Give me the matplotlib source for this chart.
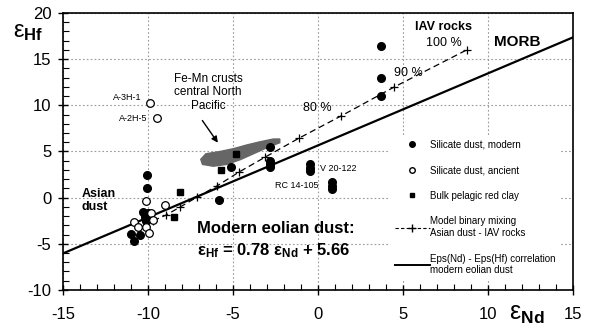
import matplotlib
matplotlib.use("Agg")
import matplotlib.pyplot as plt
from matplotlib.ticker import MultipleLocator
from matplotlib.lines import Line2D
import numpy as np

plt.rcParams["font.family"] = ["Liberation Sans", "DejaVu Sans"]
plt.rcParams["mathtext.fontset"] = "custom"
plt.rcParams["mathtext.rm"] = "Liberation Sans"
plt.rcParams["mathtext.bf"] = "Liberation Sans:bold"
plt.rcParams["mathtext.it"] = "Liberation Sans:italic"
plt.rcParams["axes.unicode_minus"] = False

# Silicate dust, modern (eNd, eHf)
modern_nd = [3.7, 3.7, 3.7, -2.8, -2.85, -2.8, -2.8, -5.1, -5.8,
             -0.5, -0.5, -0.5, 0.8, 0.8, 0.8,
             -10.05, -10.05, -10.3, -10.0, -10.2, -10.1, -11.0, -10.5, -10.8]
modern_hf = [16.4, 13.0, 11.0, 5.5, 4.0, 3.6, 3.3, 3.35, -0.3,
             3.6, 3.2, 2.9, 1.7, 1.3, 0.9,
             2.45, 1.05, -1.6, -1.7, -2.1, -2.5, -3.9, -4.1, -4.7]

# Silicate dust, ancient
ancient_nd = [-9.9, -9.5, -10.15, -9.0, -9.85, -10.8, -10.6, -10.15, -9.95, -9.7]
ancient_hf = [10.25, 8.6, -0.4, -0.75, -1.7, -2.6, -3.2, -3.2, -3.85, -2.4]

# Bulk pelagic red clay
clay_nd = [-4.8, -5.7, -8.15, -8.45]
clay_hf = [4.7, 2.95, 0.6, -2.05]

# Model binary mixing Asian dust - IAV rocks
mix_nd = [-9.7, -8.95, -8.1, -7.1, -5.95, -4.65, -3.1, -1.1, 1.35, 4.5, 8.75]
mix_hf = [-2.5, -1.9, -1.0, 0.07, 1.26, 2.77, 4.4, 6.46, 8.84, 12.0, 16.0]

# correlation eHf = 0.78 eNd + 5.66
slope, intercept = 0.78, 5.66

# Fe-Mn crust field outline
crust_nd = [-6.9, -6.6, -5.76, -4.98, -4.2, -3.41, -2.63, -2.25, -2.25,
            -3.02, -3.8, -4.59, -5.37, -6.16, -6.8]
crust_hf = [4.15, 4.75, 5.0, 5.3, 5.7, 6.05, 6.35, 6.35, 5.95,
            5.4, 4.75, 4.1, 3.6, 3.4, 3.6]

fig = plt.figure(figsize=(5.9, 3.34), dpi=100)
ax = fig.add_axes([0.107, 0.132, 0.864, 0.829])

ax.set_xlim(-15, 15)
ax.set_ylim(-10, 20)
ax.xaxis.set_major_locator(MultipleLocator(5))
ax.xaxis.set_minor_locator(MultipleLocator(1))
ax.yaxis.set_major_locator(MultipleLocator(5))
ax.yaxis.set_minor_locator(MultipleLocator(1))
ax.tick_params(which="major", direction="inout", length=7, width=1, labelsize=12)
ax.tick_params(which="minor", direction="in", length=4, width=0.8)
ax.tick_params(axis="x", which="major", pad=9)
ax.tick_params(axis="y", which="major", pad=5)
for s in ax.spines.values():
    s.set_linewidth(1.2)
ax.grid(True, which="major", linestyle=(0, (1.5, 2)), color="#999999", linewidth=0.8)
ax.set_axisbelow(True)

ax.fill(crust_nd, crust_hf, color="#666666", zorder=2)

xs = np.array([-15, 15])
ax.plot(xs, slope * xs + intercept, color="black", linewidth=1.6, zorder=3)
ax.plot(mix_nd, mix_hf, color="black", linestyle=(0, (5, 3)), linewidth=0.9,
        marker="+", markersize=6, markeredgewidth=0.9, zorder=3)

ax.plot(modern_nd, modern_hf, "o", color="black", markersize=5.5, zorder=4)
ax.plot(ancient_nd, ancient_hf, "o", markerfacecolor="white", markeredgecolor="black",
        markeredgewidth=0.9, markersize=5.5, zorder=4)
ax.plot(clay_nd, clay_hf, "s", color="black", markersize=4.5, zorder=4)

ax.annotate("", xy=(-5.8, 5.7), xytext=(-6.9, 8.6),
            arrowprops=dict(arrowstyle="-|>", color="black", lw=1, mutation_scale=9))

ax.text(7.4, 18.5, "IAV rocks", fontsize=9, fontweight="bold", ha="center", va="center")
ax.text(7.4, 16.75, "100 %", fontsize=9, ha="center", va="center")
ax.text(11.7, 16.85, "MORB", fontsize=11, fontweight="bold", ha="center", va="center")
ax.text(5.3, 13.5, "90 %", fontsize=9, ha="center", va="center")
ax.text(-0.06, 9.7, "80 %", fontsize=9, ha="center", va="center")
ax.text(-6.47, 11.4, "Fe-Mn crusts\ncentral North\nPacific", fontsize=8.5,
        ha="center", va="center", linespacing=1.2)
ax.text(-10.4, 10.9, "A-3H-1", fontsize=6.5, ha="right", va="center")
ax.text(-10.05, 8.55, "A-2H-5", fontsize=6.5, ha="right", va="center")
ax.text(-13.9, -0.3, "Asian\ndust", fontsize=9, fontweight="bold", ha="left", va="center",
        linespacing=1.1)
ax.text(0.12, 3.2, "V 20-122", fontsize=6.5, ha="left", va="center")
ax.text(-1.24, 1.26, "RC 14-105", fontsize=6.5, ha="center", va="center")
ax.text(-7.1, -3.3, "Modern eolian dust:", fontsize=12, fontweight="bold",
        ha="left", va="center")
ax.text(-7.1, -5.7, r"$\mathbf{ε_{Hf}}$ = 0.78 $\mathbf{ε_{Nd}}$ + 5.66", fontsize=12,
        fontweight="bold", ha="left", va="center")

fig.text(28 / 590, 1 - 32 / 334, r"$\mathrm{ε}_{\mathbf{Hf}}$", fontsize=17,
         ha="center", va="center")
fig.text(527 / 590, 1 - 314 / 334, r"$\mathrm{ε}_{\mathbf{Nd}}$", fontsize=18,
         ha="center", va="center")

handles = [
    Line2D([], [], linestyle="none", marker="o", color="black", markersize=4),
    Line2D([], [], linestyle="none", marker="o", markerfacecolor="white",
           markeredgecolor="black", markersize=4),
    Line2D([], [], linestyle="none", marker="s", color="black", markersize=3.5),
    Line2D([], [], color="black", linestyle=(0, (3, 2)), linewidth=0.8,
           marker="+", markersize=6, markevery=[1]),
    Line2D([], [], color="black", linewidth=1.4),
]
labels = ["Silicate dust, modern", "Silicate dust, ancient", "Bulk pelagic red clay",
          "Model binary mixing\nAsian dust - IAV rocks",
          "Eps(Nd) - Eps(Hf) correlation\nmodern eolian dust"]
leg = ax.legend(handles, labels, loc="upper left", bbox_to_anchor=(0.641, 0.56),
                fontsize=7, frameon=True, fancybox=False, edgecolor="none",
                facecolor="white", framealpha=1, handlelength=3.6, handletextpad=0.05,
                labelspacing=1.6, borderpad=0.5, borderaxespad=0)
leg.set_zorder(5)

fig.savefig("out.png", dpi=100)
